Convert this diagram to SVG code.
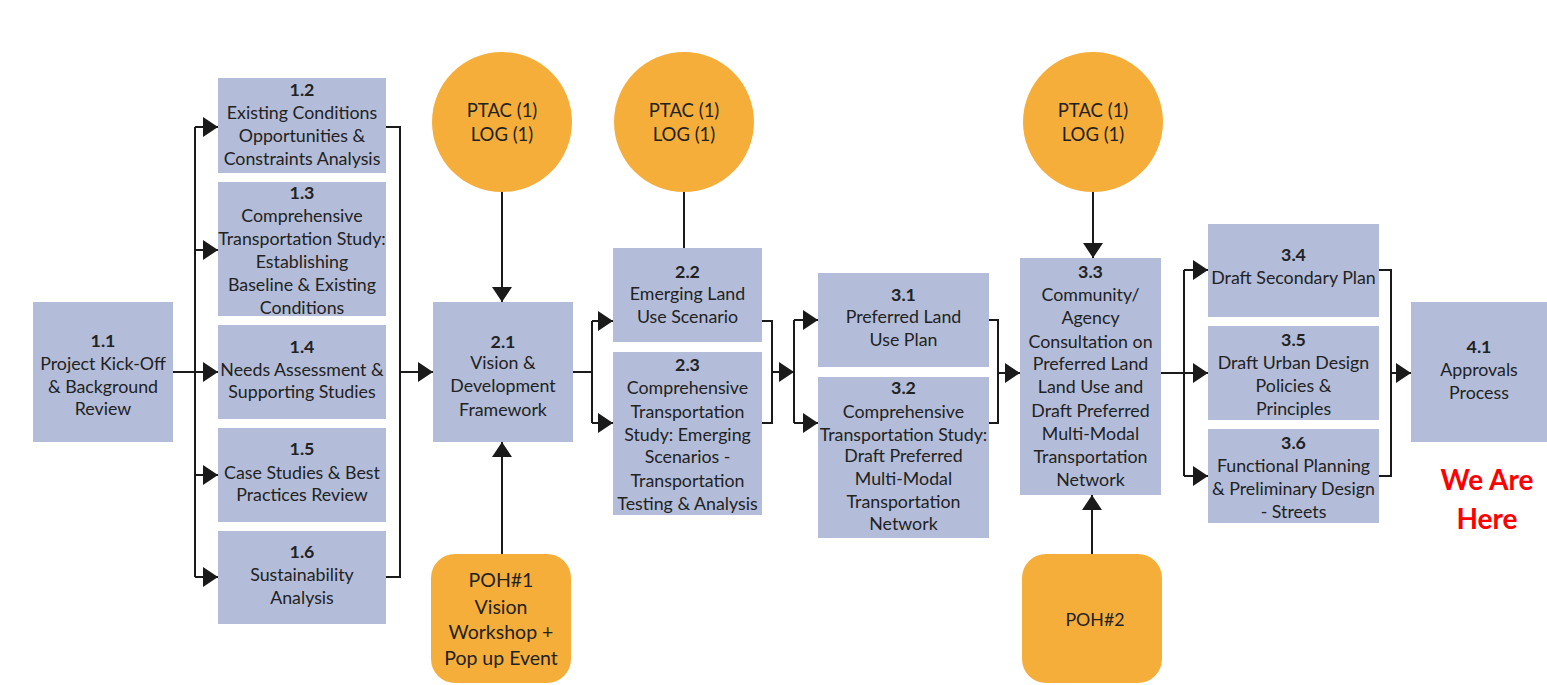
<svg xmlns="http://www.w3.org/2000/svg" width="1547" height="685" viewBox="0 0 1547 685">
<style>
.box{fill:#b3bdd9}
.org{fill:#f6ae3b}
text{font-family:Lato,"Liberation Sans",sans-serif;font-size:17.8px;fill:#222222;text-anchor:middle}
.b{font-weight:bold}
.c{font-size:18.5px}
.p{font-size:19.5px}
.red{fill:#ff0000;font-weight:bold;font-size:28px}
.con path{fill:none;stroke:#1a1a1a;stroke-width:2}
.con path.a{marker-end:url(#ah)}
</style>
<defs>
<marker id="ah" markerUnits="userSpaceOnUse" markerWidth="16" markerHeight="20" refX="15" refY="10" orient="auto" viewBox="0 0 16 20">
<path d="M0,0 L15,10 L0,20 z" fill="#1a1a1a"/>
</marker>
</defs>
<rect width="1547" height="685" fill="#ffffff"/>

<g class="con" id="connectors">
<path d="M173,372 H195"/>
<path d="M195,127 V577"/>
<path class="a" d="M195,127 H218"/>
<path class="a" d="M195,250 H218"/>
<path class="a" d="M195,372 H218"/>
<path class="a" d="M195,475 H218"/>
<path class="a" d="M195,577 H218"/>
<path d="M386,127 H400 V577 H386"/>
<path class="a" d="M400,372 H433"/>
<path class="a" d="M502,192 V302"/>
<path class="a" d="M502,554 V442"/>
<path d="M573,372 H592"/>
<path d="M592,321 V423"/>
<path class="a" d="M592,321 H613"/>
<path class="a" d="M592,423 H613"/>
<path d="M762,321 H772 V423 H762"/>
<path class="a" d="M772,372 H794"/>
<path d="M684,192 V248"/>
<path d="M794,320 V423"/>
<path class="a" d="M794,320 H818"/>
<path class="a" d="M794,423 H818"/>
<path d="M989,320 H998 V423 H989"/>
<path class="a" d="M998,373 H1020"/>
<path class="a" d="M1093,192 V258"/>
<path class="a" d="M1092,554 V495"/>
<path d="M1161,373 H1184"/>
<path d="M1184,270 V476"/>
<path class="a" d="M1184,270 H1208"/>
<path class="a" d="M1184,373 H1208"/>
<path class="a" d="M1184,476 H1208"/>
<path d="M1379,270 H1391 V476 H1379"/>
<path class="a" d="M1391,373 H1411"/>
</g>

<g id="n1_1"><rect class="box" x="33" y="302" width="140" height="140"/>
<text x="103" class="b" y="347">1.1</text><text x="103" y="370">Project Kick-Off</text><text x="103" y="393">&amp; Background</text><text x="103" y="415">Review</text></g>

<g id="n1_2"><rect class="box" x="218" y="78" width="168" height="95"/>
<text x="302" class="b" y="96">1.2</text><text x="302" y="119">Existing Conditions</text><text x="302" y="142">Opportunities &amp;</text><text x="302" y="165">Constraints Analysis</text></g>

<g id="n1_3"><rect class="box" x="218" y="182" width="168" height="134"/>
<text x="302" class="b" y="199">1.3</text><text x="302" y="222">Comprehensive</text><text x="302" y="245">Transportation Study:</text><text x="302" y="268">Establishing</text><text x="302" y="291">Baseline &amp; Existing</text><text x="302" y="314">Conditions</text></g>

<g id="n1_4"><rect class="box" x="218" y="325" width="168" height="94"/>
<text x="302" class="b" y="353">1.4</text><text x="302" y="376">Needs Assessment &amp;</text><text x="302" y="398">Supporting Studies</text></g>

<g id="n1_5"><rect class="box" x="218" y="428" width="168" height="94"/>
<text x="302" class="b" y="455">1.5</text><text x="302" y="479">Case Studies &amp; Best</text><text x="302" y="501">Practices Review</text></g>

<g id="n1_6"><rect class="box" x="218" y="531" width="168" height="93"/>
<text x="302" class="b" y="558">1.6</text><text x="302" y="581">Sustainability</text><text x="302" y="604">Analysis</text></g>

<g id="ptac1"><circle class="org" cx="502" cy="122" r="70"/>
<text class="c" x="502" y="117">PTAC (1)</text><text class="c" x="502" y="141">LOG (1)</text></g>

<g id="n2_1"><rect class="box" x="433" y="302" width="140" height="140"/>
<text x="503" class="b" y="348">2.1</text><text x="503" y="369">Vision &amp;</text><text x="503" y="392">Development</text><text x="503" y="416">Framework</text></g>

<g id="poh1"><rect class="org" x="431" y="554" width="140" height="129" rx="24"/>
<text class="p" x="501" y="587">POH#1</text><text class="p" x="501" y="614">Vision</text><text class="p" x="501" y="639">Workshop +</text><text class="p" x="501" y="665">Pop up Event</text></g>

<g id="ptac2"><circle class="org" cx="684" cy="122" r="70"/>
<text class="c" x="684" y="117">PTAC (1)</text><text class="c" x="684" y="141">LOG (1)</text></g>

<g id="n2_2"><rect class="box" x="613" y="248" width="149" height="94"/>
<text x="687.5" class="b" y="278">2.2</text><text x="687.5" y="300">Emerging Land</text><text x="687.5" y="323">Use Scenario</text></g>

<g id="n2_3"><rect class="box" x="613" y="352" width="149" height="163"/>
<text x="687.5" class="b" y="371">2.3</text><text x="687.5" y="394">Comprehensive</text><text x="687.5" y="418">Transportation</text><text x="687.5" y="441">Study: Emerging</text><text x="687.5" y="463">Scenarios -</text><text x="687.5" y="487">Transportation</text><text x="687.5" y="510">Testing &amp; Analysis</text></g>

<g id="n3_1"><rect class="box" x="818" y="273" width="171" height="94"/>
<text x="903.5" class="b" y="301">3.1</text><text x="903.5" y="323">Preferred Land</text><text x="903.5" y="346">Use Plan</text></g>

<g id="n3_2"><rect class="box" x="818" y="377" width="171" height="161"/>
<text x="903.5" class="b" y="394">3.2</text><text x="903.5" y="418">Comprehensive</text><text x="903.5" y="441">Transportation Study:</text><text x="903.5" y="462">Draft Preferred</text><text x="903.5" y="485">Multi-Modal</text><text x="903.5" y="508">Transportation</text><text x="903.5" y="530">Network</text></g>

<g id="ptac3"><circle class="org" cx="1093" cy="122" r="70"/>
<text class="c" x="1093" y="117">PTAC (1)</text><text class="c" x="1093" y="141">LOG (1)</text></g>

<g id="n3_3"><rect class="box" x="1020" y="258" width="141" height="237"/>
<text x="1090.5" class="b" y="278">3.3</text><text x="1090.5" y="301">Community/</text><text x="1090.5" y="324">Agency</text><text x="1090.5" y="348">Consultation on</text><text x="1090.5" y="370">Preferred Land</text><text x="1090.5" y="393">Land Use and</text><text x="1090.5" y="417">Draft Preferred</text><text x="1090.5" y="440">Multi-Modal</text><text x="1090.5" y="463">Transportation</text><text x="1090.5" y="486">Network</text></g>

<g id="poh2"><rect class="org" x="1022" y="554" width="140" height="129" rx="24"/>
<text x="1095" y="626">POH#2</text></g>

<g id="n3_4"><rect class="box" x="1208" y="224" width="171" height="93"/>
<text x="1293.5" class="b" y="261">3.4</text><text x="1293.5" y="284">Draft Secondary Plan</text></g>

<g id="n3_5"><rect class="box" x="1208" y="326" width="171" height="94"/>
<text x="1293.5" class="b" y="346">3.5</text><text x="1293.5" y="369">Draft Urban Design</text><text x="1293.5" y="392">Policies &amp;</text><text x="1293.5" y="415">Principles</text></g>

<g id="n3_6"><rect class="box" x="1208" y="429" width="171" height="94"/>
<text x="1293.5" class="b" y="449">3.6</text><text x="1293.5" y="472">Functional Planning</text><text x="1293.5" y="495">&amp; Preliminary Design</text><text x="1293.5" y="518">- Streets</text></g>

<g id="n4_1"><rect class="box" x="1411" y="302" width="136" height="140"/>
<text x="1479" class="b" y="353">4.1</text><text x="1479" y="376">Approvals</text><text x="1479" y="399">Process</text></g>

<g id="here"><text class="red" x="1487" y="490">We Are</text><text class="red" x="1487" y="529">Here</text></g>
</svg>
